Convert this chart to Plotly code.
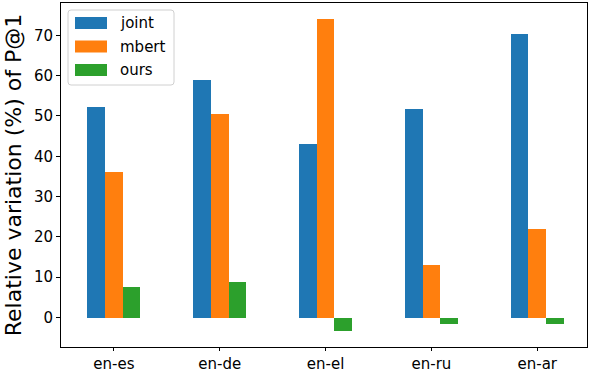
import plotly.graph_objects as go

pairs = ["en-es", "en-de", "en-el", "en-ru", "en-ar"]
joint = [52.2, 58.8, 43.1, 51.8, 70.4]
mbert = [36.0, 50.6, 74.1, 13.0, 22.0]
ours = [7.6, 8.8, -3.4, -1.7, -1.5]

series = [("joint", joint, "#1f77b4"), ("mbert", mbert, "#ff7f0e"), ("ours", ours, "#2ca02c")]

W, H = 592, 372
L, R, T, B = 61, 587, 3, 347


def px(x):
    return (x - L) / (R - L)


def py(y):
    return (B - y) / (B - T)


def rounded_box(x0, y0, x1, y1, r):
    # path in paper coords for a box with rounded corners (pixel input)
    pts = [
        f"M {px(x0 + r)},{py(y0)}", f"L {px(x1 - r)},{py(y0)}",
        f"Q {px(x1)},{py(y0)} {px(x1)},{py(y0 + r)}", f"L {px(x1)},{py(y1 - r)}",
        f"Q {px(x1)},{py(y1)} {px(x1 - r)},{py(y1)}", f"L {px(x0 + r)},{py(y1)}",
        f"Q {px(x0)},{py(y1)} {px(x0)},{py(y1 - r)}", f"L {px(x0)},{py(y0 + r)}",
        f"Q {px(x0)},{py(y0)} {px(x0 + r)},{py(y0)}", "Z",
    ]
    return " ".join(pts)


fig = go.Figure()
width = 0.5 / len(series)
for i, (name, vals, color) in enumerate(series):
    offset = (i - 1) * width
    fig.add_trace(go.Bar(
        x=[k + offset for k in range(len(pairs))],
        y=vals,
        width=width,
        name=name,
        marker=dict(color=color, line=dict(width=0)),
        showlegend=False
    ))

# legend drawn by hand to get matplotlib-style wide patches
shapes = [dict(
    type="path", xref="paper", yref="paper",
    path=rounded_box(68, 10, 174, 85, 3),
    line=dict(color="#d0d0d0", width=1), fillcolor="rgba(255,255,255,0.8)", layer="above"
)]
annotations = []
for i, (name, vals, color) in enumerate(series):
    cy = 23 + i * 23.5
    shapes.append(dict(
        type="rect", xref="paper", yref="paper",
        x0=px(75), x1=px(107), y0=py(cy + 6), y1=py(cy - 6),
        line=dict(width=0), fillcolor=color, layer="above"
    ))
    annotations.append(dict(
        x=px(118), y=py(cy), xref="paper", yref="paper", text=name,
        showarrow=False, xanchor="left", yanchor="middle",
        font=dict(size=15, color="black")
    ))

fig.update_layout(
    width=W, height=H,
    margin=dict(l=L, r=W - R, t=T, b=H - B, autoexpand=False),
    plot_bgcolor="white", paper_bgcolor="white",
    font=dict(family="DejaVu Sans", size=15, color="black"),
    bargap=0,
    shapes=shapes,
    annotations=annotations,
    xaxis=dict(
        range=[-0.5, 4.47], tickmode="array", tickvals=list(range(len(pairs))), ticktext=pairs,
        showline=True, mirror=True, linecolor="black", linewidth=1,
        ticks="outside", ticklen=3, tickcolor="black", showgrid=False, zeroline=False,
        automargin=False
    ),
    yaxis=dict(
        range=[-7.3, 78], tickvals=[0, 10, 20, 30, 40, 50, 60, 70],
        showline=True, mirror=True, linecolor="black", linewidth=1,
        ticks="outside", ticklen=4, tickcolor="black", showgrid=False, zeroline=False,
        automargin=False,
        title=dict(text="Relative variation (%) of P@1", font=dict(size=22), standoff=6)
    )
)

fig.write_html("out.html", config={"displayModeBar": False},
               post_script="document.body.style.margin='0';")
